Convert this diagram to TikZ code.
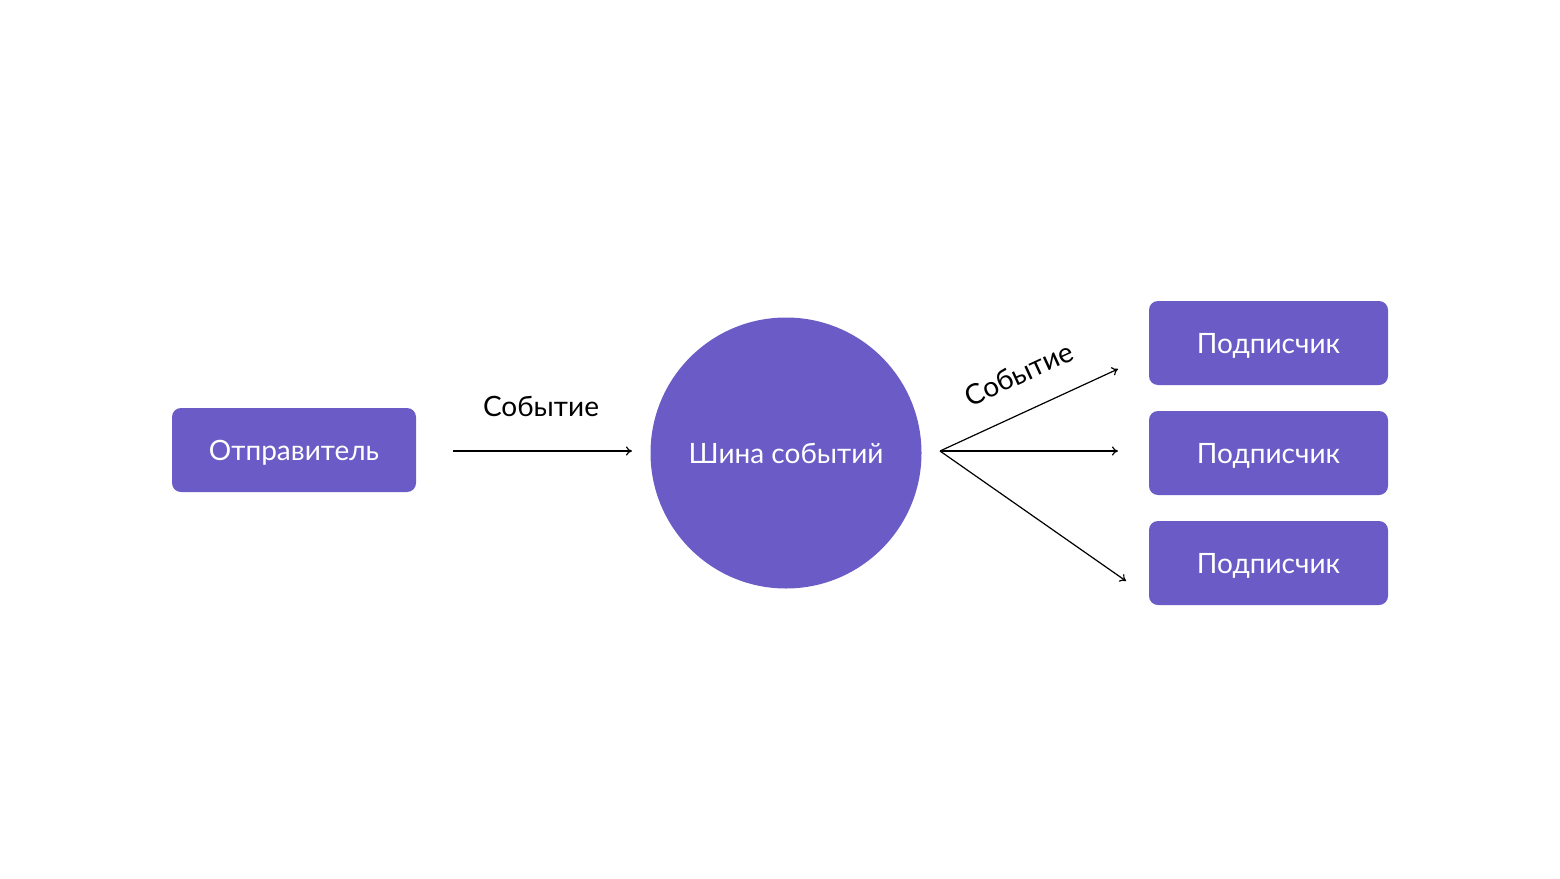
\documentclass[tikz,border=0pt]{standalone}
\usepackage{fontspec}
\setmainfont{Lato}
\usetikzlibrary{arrows.meta}
\definecolor{vio}{RGB}{106,91,198}
\begin{document}
\begin{tikzpicture}[x=1pt,y=-1pt,
  boxst/.style={fill=vio,rounded corners=9pt,minimum height=84pt,inner sep=0pt,text=white,text height=20pt,text depth=0pt,font=\fontsize{28}{32}\selectfont},
  arr/.style={draw=black,line width=1.2pt,-{To[length=6pt,width=9pt]}},
  lbl/.style={font=\fontsize{28}{32}\selectfont,text=black}]
\useasboundingbox[fill=white] (0,0) rectangle (1560,878);
\node[boxst,minimum width=244pt] (snd) at (294,450) {Отправитель};
\node[circle,fill=vio,minimum size=271pt,inner sep=0pt,text=white,text height=20pt,text depth=0pt,font=\fontsize{28}{32}\selectfont] (bus) at (786,453) {Шина событий};
\node[boxst,minimum width=239pt] (s1) at (1268.5,343) {Подписчик};
\node[boxst,minimum width=239pt] (s2) at (1268.5,453) {Подписчик};
\node[boxst,minimum width=239pt] (s3) at (1268.5,563) {Подписчик};
\coordinate (a0) at (453,451);
\coordinate (a1) at (632,451);
\coordinate (f0) at (940,451);
\coordinate (e1) at (1118,369);
\coordinate (e2) at (1118,451);
\coordinate (e3) at (1126,581);
\draw[arr] (a0) -- (a1);
\draw[arr] (f0) -- (e1);
\draw[arr] (f0) -- (e2);
\draw[arr] (f0) -- (e3);
\node[lbl] (l1) at (541,406) {Событие};
\node[lbl,rotate=24.7] (l2) at (1019,374) {Событие};
\end{tikzpicture}
\end{document}
